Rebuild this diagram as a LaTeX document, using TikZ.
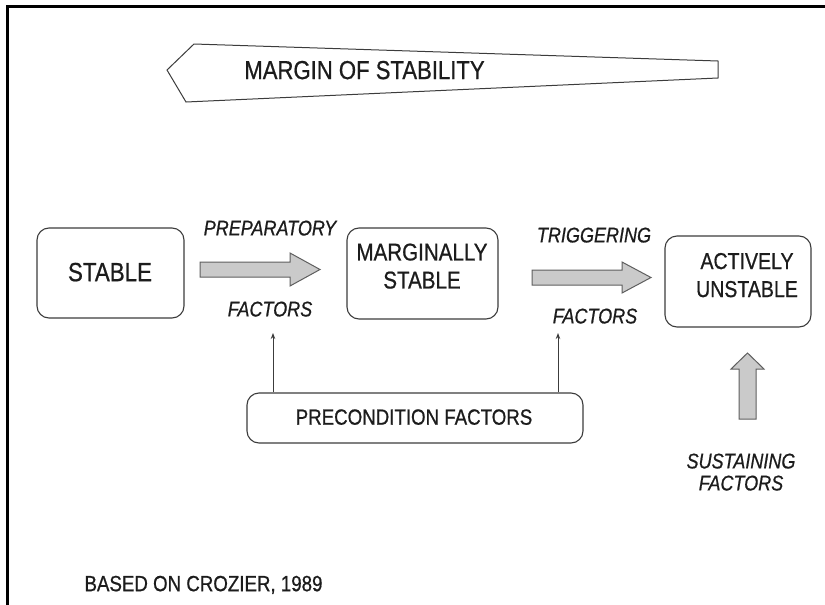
\documentclass[tikz,border=0pt]{standalone}
\usepackage{fontspec}
\setmainfont{Liberation Sans}[FakeStretch=0.85, FakeBold=0.7]
\usetikzlibrary{arrows.meta}

\definecolor{ink}{RGB}{28,28,28}
\definecolor{edge}{RGB}{60,60,60}
\definecolor{blockfill}{RGB}{202,202,202}
\definecolor{blockedge}{RGB}{95,95,95}

\tikzset{
  statebox/.style={draw=edge, line width=1.1pt, rounded corners=12pt,
    inner sep=0pt, fill=white},
  lbl/.style={text=ink, inner sep=0pt, text depth=0pt, align=center},
  blockarrow/.style={fill=blockfill, draw=blockedge, line width=1pt, line join=miter},
  feed/.style={draw=edge, line width=1pt,
    -{Stealth[length=6pt,width=4.5pt]}},
}

\begin{document}
\begin{tikzpicture}[x=1pt,y=-1pt]
  \useasboundingbox (0,0) rectangle (825,605);
  \fill[white] (0,0) rectangle (825,605);

  % outer frame (top and left edges)
  \draw[black, line width=2.2pt] (7.5,606) -- (7.5,6.5) -- (826,6.5);

  % margin of stability wedge
  \draw[edge, line width=1pt, line join=miter]
    (718,61) -- (194,44) -- (167,70) -- (186,102) -- (718,78) -- cycle;
  \node[lbl, font=\fontsize{26}{28}\selectfont] (margin) at (364.5,70) {MARGIN OF STABILITY};

  % state boxes
  \node[statebox, minimum width=147pt, minimum height=90pt] (stable) at (110.5,273) {};
  \node[statebox, minimum width=151pt, minimum height=91pt] (marg) at (422.5,273.5) {};
  \node[statebox, minimum width=146pt, minimum height=91pt] (active) at (738,281.5) {};
  \node[statebox, minimum width=336pt, minimum height=50pt] (pre) at (415,418) {};

  \node[lbl, font=\fontsize{26.3}{28}\selectfont] (tstable) at (110,272) {STABLE};
  \node[lbl, font=\fontsize{24.2}{28}\selectfont] (tmarg) at (422,266) {MARGINALLY\\STABLE};
  \node[lbl, font=\fontsize{23}{28}\selectfont] (tactive) at (747,275) {ACTIVELY\\UNSTABLE};
  \node[lbl, font=\fontsize{22}{24}\selectfont] (tpre) at (414,417) {PRECONDITION FACTORS};

  % block arrows between states
  \draw[blockarrow] (200,262) -- (290,262) -- (290,253) -- (320,269.5)
    -- (290,286) -- (290,277) -- (200,277) -- cycle;
  \draw[blockarrow] (532,270) -- (622,270) -- (622,262) -- (651,277.5)
    -- (622,293) -- (622,285) -- (532,285) -- cycle;
  \draw[blockarrow] (739,419) -- (739,369) -- (731,369) -- (747.5,353)
    -- (764,369) -- (756,369) -- (756,419) -- cycle;

  % factor labels
  \node[lbl, font=\fontsize{21.2}{24}\selectfont\itshape] (prep) at (270,228) {PREPARATORY};
  \node[lbl, font=\fontsize{21.2}{24}\selectfont\itshape] (prepf) at (270,309) {FACTORS};
  \node[lbl, font=\fontsize{21.2}{24}\selectfont\itshape] (trig) at (594,235) {TRIGGERING};
  \node[lbl, font=\fontsize{21.2}{24}\selectfont\itshape] (trigf) at (595,316) {FACTORS};
  \node[lbl, font=\fontsize{21.2}{22}\selectfont\itshape] (sust) at (741,472) {SUSTAINING\\FACTORS};

  % precondition feeds
  \coordinate (fa) at (273,333);
  \coordinate (fb) at (558,333);
  \draw[feed] (pre.north -| fa) -- (fa);
  \draw[feed] (pre.north -| fb) -- (fb);

  % source note
  \node[lbl, font=\fontsize{22}{24}\selectfont] (src) at (203.5,583.5) {BASED ON CROZIER, 1989};
\end{tikzpicture}
\end{document}
